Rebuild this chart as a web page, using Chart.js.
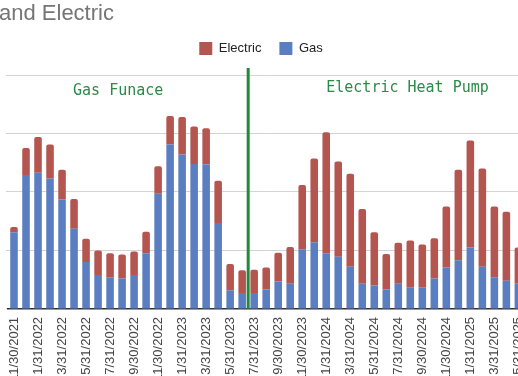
<!DOCTYPE html>
<html>
<head>
<meta charset="utf-8">
<script src="https://cdn.jsdelivr.net/npm/chart.js@4/dist/chart.umd.min.js"></script>
<style>
  html, body { margin: 0; padding: 0; background: #fff; overflow: hidden; }
  #wrap { position: absolute; left: 0; top: 0; width: 534px; height: 381px; }
</style>
</head>
<body>
<div id="wrap"><canvas id="chart" width="534" height="381"></canvas></div>
<script>
// ================= DATA =================
const months = [
  '11/30/2021','12/31/2021',
  '1/31/2022','2/28/2022','3/31/2022','4/30/2022','5/31/2022','6/30/2022',
  '7/31/2022','8/31/2022','9/30/2022','10/31/2022','11/30/2022','12/31/2022',
  '1/31/2023','2/28/2023','3/31/2023','4/30/2023','5/31/2023','6/30/2023',
  '7/31/2023','8/31/2023','9/30/2023','10/31/2023','11/30/2023','12/31/2023',
  '1/31/2024','2/29/2024','3/31/2024','4/30/2024','5/31/2024','6/30/2024',
  '7/31/2024','8/31/2024','9/30/2024','10/31/2024','11/30/2024','12/31/2024',
  '1/31/2025','2/28/2025','3/31/2025','4/30/2025','5/31/2025'
];
const gas = [131,229,233,223,187,137,80,58,54,52,58,95,197,281,264,248,247,147,32,27,
             27,33,47,43,102,114,95,89,72,43,40,33,43,37,37,52,71,83,105,72,54,48,44];
const electric = [9,46,61,58,51,51,40,42,41,41,40,37,47,49,64,64,62,72,45,39,
                  40,38,49,63,110,143,207,163,159,128,91,61,70,80,73,69,104,155,183,168,121,118,61];

const titleText = 'and Electric';
const switchIndex = 20;           // heat pump from 7/31/2023
const notes = ['Gas Funace', 'Electric Heat Pump'];

// ================= OVERLAY (title, switch line, notes) =================
const overlay = {
  id: 'overlay',
  beforeInit(chart) {
    // more room under the legend
    const fit = chart.legend.fit;
    chart.legend.fit = function () { fit.call(this); this.height += 10; };
  },
  afterLayout(chart) {
    // legend sits a bit left of the canvas centre
    chart.legend.left -= 8;
    chart.legend.right -= 8;
  },
  afterDatasetsDraw(chart) {
    const { ctx, scales: { x, y } } = chart;
    ctx.save();

    ctx.fillStyle = '#757575';
    ctx.font = '22px "Liberation Sans", Arial, sans-serif';
    ctx.textBaseline = 'alphabetic';
    ctx.textAlign = 'left';
    ctx.fillText(titleText, -1, 20);

    const lx = (x.getPixelForValue(switchIndex - 1) + x.getPixelForValue(switchIndex)) / 2;
    ctx.strokeStyle = '#1e8a3c';
    ctx.lineWidth = 3;
    ctx.beginPath();
    ctx.moveTo(lx, y.getPixelForValue(412));
    ctx.lineTo(lx, y.getPixelForValue(0));
    ctx.stroke();

    ctx.fillStyle = '#2b8a47';
    ctx.font = '15px "DejaVu Sans Mono", "Liberation Mono", monospace';
    ctx.textBaseline = 'middle';
    ctx.fillText(notes[0], x.getPixelForValue(5) - 1, y.getPixelForValue(373));
    ctx.fillText(notes[1], x.getPixelForValue(26), y.getPixelForValue(377));
    ctx.restore();
  }
};

// ================= CHART =================
const font = { family: '"Liberation Sans", Arial, sans-serif', size: 13 };

new Chart(document.getElementById('chart'), {
  type: 'bar',
  data: {
    labels: months,
    datasets: [
      { label: 'Gas', data: gas, backgroundColor: '#5a7ec1', borderWidth: 0 },
      { label: 'Electric', data: electric, backgroundColor: '#b5554f', borderWidth: 0, borderRadius: 2 }
    ]
  },
  options: {
    responsive: false,
    animation: false,
    layout: { padding: { left: 6, right: 2, top: 24, bottom: 0 } },
    datasets: { bar: { barPercentage: 0.63, categoryPercentage: 1 } },
    plugins: {
      title: { display: false },
      tooltip: { enabled: false },
      legend: {
        reverse: true,
        labels: { font, color: '#222', boxWidth: 13, boxHeight: 13, padding: 18 }
      }
    },
    scales: {
      x: {
        stacked: true,
        grid: { display: false },
        border: { color: '#333', width: 1.5 },
        ticks: {
          autoSkip: false, minRotation: 90, maxRotation: 90, padding: 0,
          font, color: '#444',
          callback: (v, i) => (i % 2 === 0 ? months[i] : '')
        }
      },
      y: {
        stacked: true,
        min: 0, max: 400,
        ticks: { display: false, stepSize: 100 },
        grid: { color: '#d3d3d3', tickLength: 2, drawTicks: true },
        border: { display: false }
      }
    }
  },
  plugins: [overlay]
});
</script>
</body>
</html>
